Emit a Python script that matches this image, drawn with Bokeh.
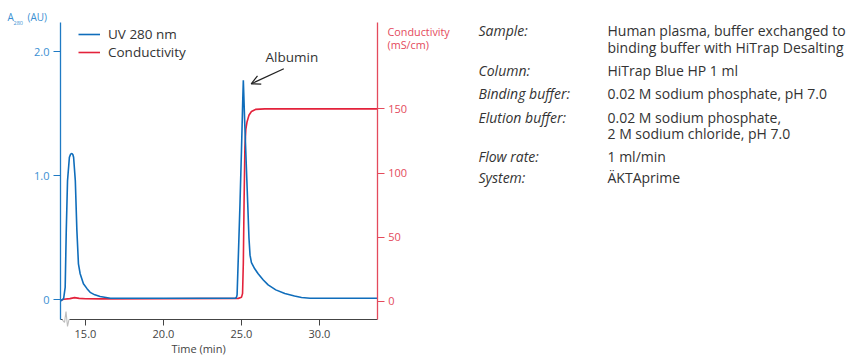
from bokeh.plotting import figure
from bokeh.models import (Range1d, LinearAxis, Legend, LegendItem, Label, Arrow,
                          OpenHead, FixedTicker, PolyAnnotation)
from bokeh.embed import file_html
from bokeh.resources import INLINE

# ---- data ----
time_uv = [13.40, 13.60, 13.70, 13.77, 13.85, 13.97, 14.05, 14.13, 14.19, 14.24, 14.35,
           14.45, 14.55, 14.66, 14.87, 15.10, 15.30, 15.60, 15.94, 16.60, 20.00,
           24.62, 24.68, 24.72, 24.80, 24.90, 25.00, 25.08, 25.12, 25.20, 25.30,
           25.40, 25.48, 25.55, 25.64, 25.85, 26.07, 26.40, 26.71, 27.20, 27.78,
           28.40, 28.85, 29.40, 33.70]
uv = [-0.01, 0.01, 0.10, 0.56, 0.96, 1.15, 1.175, 1.18, 1.172, 1.15, 0.96,
      0.56, 0.29, 0.21, 0.13, 0.09, 0.06, 0.04, 0.027, 0.013, 0.012,
      0.013, 0.02, 0.04, 0.35, 0.75, 1.20, 1.60, 1.77, 1.46, 1.12,
      0.78, 0.50, 0.36, 0.30, 0.25, 0.21, 0.16, 0.12, 0.08, 0.05,
      0.03, 0.018, 0.013, 0.012]

time_cond = [13.40, 13.60, 14.00, 14.30, 14.60, 15.00, 16.00, 20.00, 24.80, 25.00,
             25.07, 25.12, 25.17, 25.22, 25.28, 25.36, 25.48, 25.64, 25.90, 26.50, 33.70]
cond = [0.5, 1.5, 2.0, 2.8, 2.2, 1.9, 1.8, 1.9, 2.2, 3.0,
        6.0, 30.0, 80.0, 120.0, 134.0, 140.0, 145.0, 148.0, 149.6, 150.0, 150.0]

x_ticks = [15, 20, 25, 30]
x_tick_labels = {15: "15.0", 20: "20.0", 25: "25.0", 30: "30.0"}
uv_ticks = [0, 1, 2]
uv_tick_labels = {0: "0", 1: "1.0", 2: "2.0"}
cond_ticks = [0, 50, 100, 150]

info_keys = ["Sample:", "", "Column:", "Binding buffer:", "Elution buffer:", "", "Flow rate:", "System:"]
info_vals = ["Human plasma, buffer exchanged to", "binding buffer with HiTrap Desalting",
             "HiTrap Blue HP 1 ml", "0.02 M sodium phosphate, pH 7.0",
             "0.02 M sodium phosphate,", "2 M sodium chloride, pH 7.0",
             "1 ml/min", "ÄKTAprime"]

# ---- style ----
FONT = "Open Sans"
BLUE = "#0f6dbb"
BLUE_AX = "#1f7ac4"
BLUE_TXT = "#3b8fd2"
RED = "#e3223b"
RED_AX = "#e44a5c"
TEXT = "#333333"
GREY = "#444444"
BASE_SHIFT = 0.35          # rendered baseline sits ~0.35 em below the requested one

# ---- geometry: the frame fills the canvas, axes are drawn at fixed locations ----
W, H = 856, 357
FL, FR, FT, FB = 60, 376, 22, 319     # plot box in page pixels
X_MIN, X_MAX = 13.4, 33.7             # time range of the plot box
PX_PER_MIN = 15.6
Y0_PX, PX_PER_AU = 299.3, 124.0       # UV: pixel row of 0 AU, pixels per AU
C0_PX, PX_PER_MS = 300.7, 64.1 / 50   # conductivity: pixel row of 0, pixels per mS/cm


def x_at(px):
    return X_MIN + (px - FL) / PX_PER_MIN


def uv_at(py):
    return (Y0_PX - py) / PX_PER_AU


def c_at(py):
    return (C0_PX - py) / PX_PER_MS


p = figure(width=W, height=H, output_backend="svg", toolbar_location=None,
           x_range=Range1d(x_at(0), x_at(W)), y_range=Range1d(uv_at(H), uv_at(0)),
           min_border_left=0, min_border_right=0, min_border_top=0, min_border_bottom=0)
p.outline_line_color = None
p.grid.visible = False
p.background_fill_color = "white"
p.border_fill_color = "white"
p.extra_y_ranges = {"cond": Range1d(c_at(H), c_at(0))}

r_cond = p.line(time_cond, cond, y_range_name="cond", line_color=RED, line_width=1.6)
r_uv = p.line(time_uv, uv, line_color=BLUE, line_width=1.6)

# x axis
xa = p.xaxis[0]
xa.fixed_location = uv_at(FB)
xa.bounds = (X_MIN, X_MAX)
xa.ticker = FixedTicker(ticks=x_ticks)
xa.major_label_overrides = x_tick_labels
xa.axis_line_color = GREY
xa.major_tick_line_color = GREY
xa.major_tick_in = 0
xa.major_tick_out = 6
xa.minor_tick_line_color = None
xa.major_label_text_font = FONT
xa.major_label_text_font_size = "11px"
xa.major_label_text_color = GREY
xa.major_label_standoff = 4

# left axis
ya = p.yaxis[0]
ya.fixed_location = X_MIN
ya.bounds = (uv_at(FB), uv_at(FT))
ya.ticker = FixedTicker(ticks=uv_ticks)
ya.major_label_overrides = uv_tick_labels
ya.axis_line_color = BLUE_AX
ya.axis_line_width = 1.3
ya.major_tick_line_color = BLUE_AX
ya.major_tick_in = 0
ya.major_tick_out = 7
ya.minor_tick_line_color = None
ya.major_label_text_font = FONT
ya.major_label_text_font_size = "11px"
ya.major_label_text_color = BLUE_TXT
ya.major_label_standoff = 4

# right axis
ra = LinearAxis(y_range_name="cond", ticker=FixedTicker(ticks=cond_ticks),
                fixed_location=X_MAX, bounds=(c_at(FB), c_at(FT)))
ra.axis_line_color = RED_AX
ra.axis_line_width = 1.3
ra.major_tick_line_color = RED_AX
ra.major_tick_in = 0
ra.major_tick_out = 7
ra.minor_tick_line_color = None
ra.major_label_text_font = FONT
ra.major_label_text_font_size = "11px"
ra.major_label_text_color = RED_AX
ra.major_label_standoff = 4
p.add_layout(ra, "right")

# series legend (location = bottom-left corner, pixels from canvas bottom-left)
leg = Legend(items=[LegendItem(label="UV 280 nm", renderers=[r_uv]),
                    LegendItem(label="Conductivity", renderers=[r_cond])],
             location=(78, H - 61))
leg.border_line_color = None
leg.background_fill_alpha = 0
leg.label_text_font = FONT
leg.label_text_font_size = "13.5px"
leg.label_text_color = TEXT
leg.glyph_width = 22
leg.glyph_height = 18
leg.label_height = 18
leg.spacing = 0
leg.label_standoff = 8
leg.padding = 0
leg.margin = 0
p.add_layout(leg)


# texts placed in page pixels (screen units measured from canvas bottom-left);
# py is the wanted baseline row
def lab(px, py, text, size, color, style="normal", align="left", font=FONT):
    py_adj = py - BASE_SHIFT * size
    p.add_layout(Label(x=px, y=H - py_adj, x_units="screen", y_units="screen", text=text,
                       text_font=font, text_font_size=f"{size}px", text_color=color,
                       text_font_style=style, text_align=align,
                       text_baseline="alphabetic"))


lab(7, 20, "A", 10, BLUE_TXT)
lab(13, 24.5, "280", 5.5, BLUE_TXT)
lab(27, 20, "(AU)", 10, BLUE_TXT)
lab(387, 35, "Conductivity", 10.8, RED_AX)
lab(387, 48, "(mS/cm)", 10.8, RED_AX)
lab(198, 351.8, "Time (min)", 11, GREY, align="center")

row_base = [35, 51.5, 75, 98.3, 121.7, 138.3, 160.5, 182]
for by, k, v in zip(row_base, info_keys, info_vals):
    if k:
        lab(478, by, k, 14, TEXT, style="italic")
    lab(607, by, v, 14, TEXT)

# Albumin annotation (data units)
p.add_layout(Label(x=x_at(265), y=uv_at(61.7 - BASE_SHIFT * 13.5), text="Albumin",
                   text_font=FONT, text_font_size="13.5px", text_color=TEXT,
                   text_baseline="alphabetic"))
p.add_layout(Arrow(x_start=x_at(283.3), y_start=uv_at(68.3), x_end=x_at(250.7),
                   y_end=uv_at(83.3), line_color="#222222", line_width=1.2,
                   end=OpenHead(size=9, line_color="#222222", line_width=1.2)))

# axis break mark on the time axis (page pixels)
bx = [62, 69, 69, 62]
by_ = [317.5, 317.5, 320.5, 320.5]
p.add_layout(PolyAnnotation(xs=bx, ys=[H - v for v in by_], xs_units="screen",
                            ys_units="screen", fill_color="white", fill_alpha=1,
                            line_color=None, level="overlay"))
zx = [61.5, 64, 65.5, 67, 68.5, 67, 65.5, 64, 61.5]
zy = [319, 322, 311, 326, 319, 326, 311, 322, 319]
p.add_layout(PolyAnnotation(xs=zx, ys=[H - v for v in zy], xs_units="screen",
                            ys_units="screen", fill_alpha=0, line_color="#222222",
                            line_width=1.1, level="overlay"))

open("out.html", "w").write(file_html(p, INLINE))
